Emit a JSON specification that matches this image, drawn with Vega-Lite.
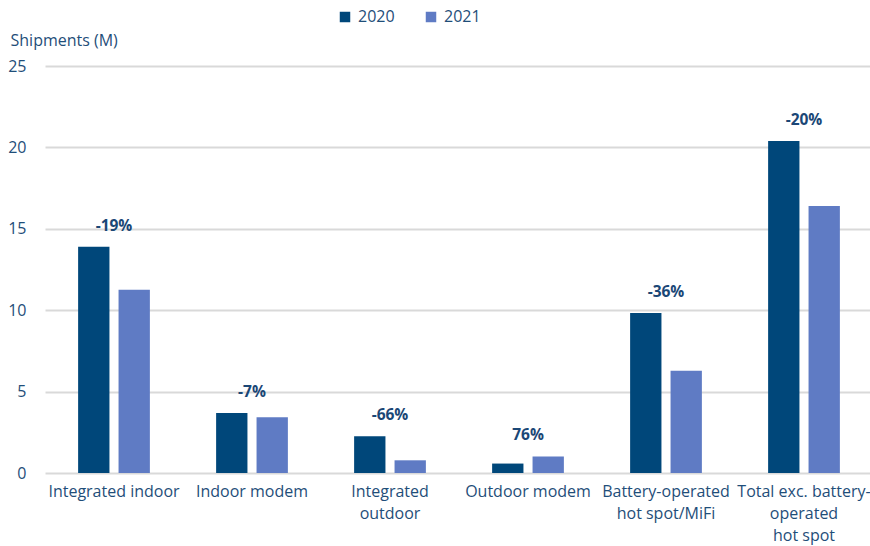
{
  "$schema": "https://vega.github.io/schema/vega-lite/v6.json",
  "autosize": {"type": "none"},
  "width": 828,
  "height": 407,
  "padding": {"left": 45, "top": 66, "right": 0, "bottom": 73},
  "background": "white",
  "config": {
    "font": "Open Sans",
    "view": {"stroke": null},
    "axis": {"labelFont": "Open Sans", "titleFont": "Open Sans", "labelColor": "#1f4e79", "titleColor": "#1f4e79"}
  },
  "data": {
    "values": [
      {"category": "Integrated indoor", "year": "2020", "value": 13.9, "change": "-19%"},
      {"category": "Integrated indoor", "year": "2021", "value": 11.25, "change": "-19%"},
      {"category": "Indoor modem", "year": "2020", "value": 3.68, "change": "-7%"},
      {"category": "Indoor modem", "year": "2021", "value": 3.42, "change": "-7%"},
      {"category": "Integrated|outdoor", "year": "2020", "value": 2.25, "change": "-66%"},
      {"category": "Integrated|outdoor", "year": "2021", "value": 0.78, "change": "-66%"},
      {"category": "Outdoor modem", "year": "2020", "value": 0.58, "change": "76%"},
      {"category": "Outdoor modem", "year": "2021", "value": 1.02, "change": "76%"},
      {"category": "Battery-operated|hot spot/MiFi", "year": "2020", "value": 9.83, "change": "-36%"},
      {"category": "Battery-operated|hot spot/MiFi", "year": "2021", "value": 6.28, "change": "-36%"},
      {"category": "Total exc. battery-|operated|hot spot", "year": "2020", "value": 20.4, "change": "-20%"},
      {"category": "Total exc. battery-|operated|hot spot", "year": "2021", "value": 16.4, "change": "-20%"}
    ]
  },
  "encoding": {
    "x": {
      "field": "category",
      "type": "nominal",
      "sort": null,
      "scale": {"paddingInner": 0.48, "paddingOuter": 0.24},
      "axis": {
        "title": null,
        "labelAngle": 0,
        "labelExpr": "split(datum.label, '|')",
        "labelFontSize": 16,
        "labelLineHeight": 22,
        "labelPadding": 10,
        "ticks": false,
        "domain": false,
        "labelBaseline": "top"
      }
    }
  },
  "layer": [
    {
      "mark": {"type": "bar"},
      "encoding": {
        "xOffset": {"field": "year", "type": "nominal", "scale": {"paddingInner": 0.225}},
        "y": {
          "field": "value",
          "type": "quantitative",
          "scale": {"domain": [0, 25], "nice": false},
          "axis": {
            "title": "Shipments (M)",
            "titleAngle": 0,
            "titleAlign": "left",
            "titleBaseline": "middle",
            "titleX": -35,
            "titleY": -26,
            "titleFontSize": 16,
            "titleFontWeight": "normal",
            "values": [0, 5, 10, 15, 20, 25],
            "labelOverlap": false,
            "labelFontSize": 16,
            "labelPadding": 19,
            "ticks": false,
            "domain": false,
            "grid": true,
            "gridColor": "#d9d9d9",
            "gridWidth": 2
          }
        },
        "color": {
          "field": "year",
          "type": "nominal",
          "scale": {"domain": ["2020", "2021"], "range": ["#00477a", "#5f7bc4"]},
          "legend": {
            "title": null,
            "orient": "none",
            "direction": "horizontal",
            "legendX": 292,
            "legendY": -57,
            "symbolType": "square",
            "symbolSize": 110,
            "symbolStrokeWidth": 0,
            "labelFontSize": 16,
            "labelColor": "#1f4e79",
            "labelOffset": 5,
            "columnPadding": 28
          }
        }
      }
    },
    {
      "mark": {"type": "text", "fontWeight": "bold", "fontSize": 15.5, "color": "#1b4776", "dy": -21, "baseline": "middle"},
      "encoding": {
        "y": {"aggregate": "max", "field": "value", "type": "quantitative"},
        "text": {"field": "change", "type": "nominal"}
      }
    }
  ]
}
